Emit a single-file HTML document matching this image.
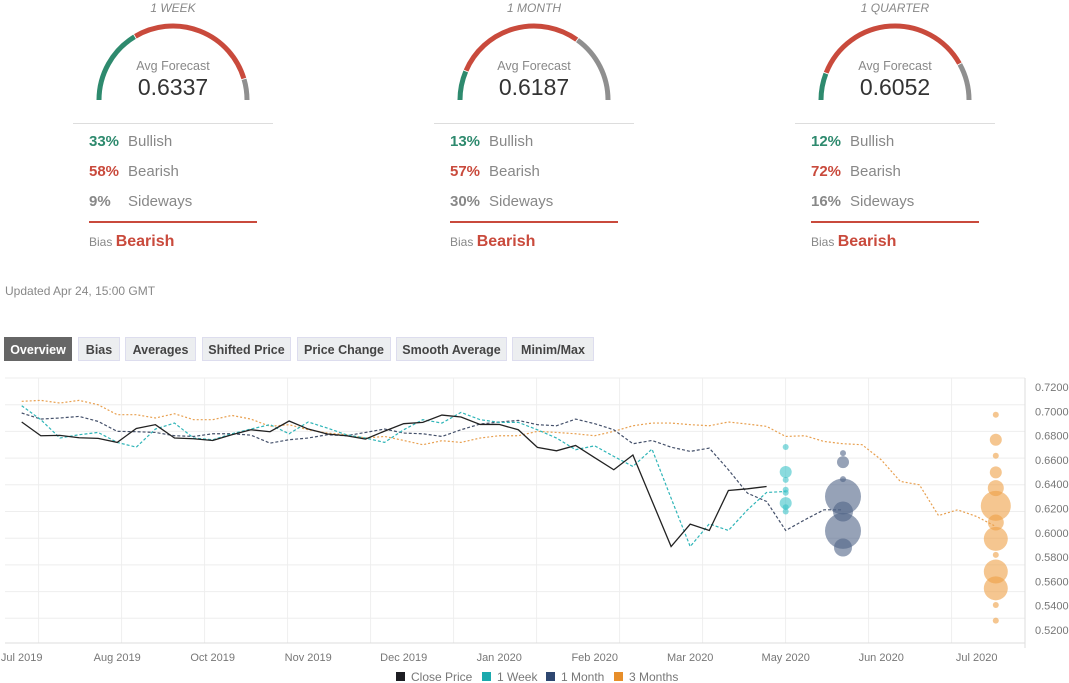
<!DOCTYPE html>
<html><head><meta charset="utf-8">
<style>
body{margin:0;width:1069px;height:683px;background:#fff;font-family:"Liberation Sans",sans-serif;overflow:hidden;position:relative}
.abs{position:absolute}
.gt{position:absolute;width:200px;text-align:center;font-style:italic;font-size:12px;color:#888;top:1px}
.row{position:absolute;font-size:15px;color:#888}
.row b{display:inline-block;width:39px;font-weight:bold}
.btn{position:absolute;top:337px;height:24px;line-height:24px;font-size:12.5px;font-weight:bold;color:#444;background:#eceef0;border:1px solid #dde;text-align:center;box-sizing:border-box}
</style></head><body>
<div id="gauges"></div>
<div class="abs" style="left:5px;top:284px;font-size:12px;color:#888">Updated Apr 24, 15:00 GMT</div>
<div class="btn" style="left:4px;width:68px;background:#666;color:#fff;border-color:#666">Overview</div>
<div class="btn" style="left:78px;width:42px">Bias</div>
<div class="btn" style="left:125px;width:71px">Averages</div>
<div class="btn" style="left:202px;width:89px">Shifted Price</div>
<div class="btn" style="left:297px;width:94px">Price Change</div>
<div class="btn" style="left:396px;width:111px">Smooth Average</div>
<div class="btn" style="left:512px;width:82px">Minim/Max</div>
<svg id="chart" class="abs" style="left:0;top:0" width="1069" height="683"></svg>
<script>
const NS="http://www.w3.org/2000/svg";
// gauges
const gaugeTitles=["1 WEEK","1 MONTH","1 QUARTER"];
const gaugeAvg=["0.6337","0.6187","0.6052"];
const gaugeBull=[33,13,12];
const gaugeBear=[58,57,72];
const gaugeSide=[9,30,16];
const gcx=[173,534,895];
const gdiv=document.getElementById('gauges');
let html='';
for(let g=0;g<3;g++){
  const cx=gcx[g],cy=100,r=74;
  const segs=[[gaugeBull[g],'#2e8a6e'],[gaugeBear[g],'#c94a3c'],[gaugeSide[g],'#8f8f8f']];
  let a0=Math.PI,paths='';
  segs.forEach((s,k)=>{const a1=a0-Math.PI*s[0]/100;const gap=k<2?0.012:0;
    const x0=cx+r*Math.cos(a0),y0=cy-r*Math.sin(a0),x1=cx+r*Math.cos(a1+gap),y1=cy-r*Math.sin(a1+gap);
    paths+=`<path d="M${x0} ${y0} A${r} ${r} 0 0 1 ${x1} ${y1}" stroke="${s[1]}" stroke-width="5" fill="none"/>`;a0=a1;});
  html+=`<div class="gt" style="left:${cx-100}px">${gaugeTitles[g]}</div>
<svg class="abs" style="left:0;top:0" width="1069" height="120">${paths}</svg>
<div class="abs" style="left:${cx-60}px;width:120px;text-align:center;top:59px;font-size:12.5px;color:#888">Avg Forecast</div>
<div class="abs" style="left:${cx-60}px;width:120px;text-align:center;top:74px;font-size:23px;color:#333">${gaugeAvg[g]}</div>
<div class="abs" style="left:${cx-100}px;top:123px;width:200px;height:1px;background:#ddd"></div>
<div class="row" style="left:${cx-84}px;top:133px"><b style="color:#2e8a6e">${gaugeBull[g]}%</b>Bullish</div>
<div class="row" style="left:${cx-84}px;top:163px"><b style="color:#c94a3c">${gaugeBear[g]}%</b>Bearish</div>
<div class="row" style="left:${cx-84}px;top:193px"><b style="color:#888">${gaugeSide[g]}%</b>Sideways</div>
<div class="abs" style="left:${cx-84}px;top:221px;width:168px;height:2px;background:#c94a3c"></div>
<div class="abs" style="left:${cx-84}px;top:233px;font-size:12px;color:#888">Bias <span style="font-size:16px;font-weight:bold;color:#c94a3c">Bearish</span></div>`;
}
gdiv.innerHTML=html;

// chart data
const closePrice=[0.6912,0.6799,0.6802,0.6782,0.6777,0.6744,0.6859,0.6890,0.6780,0.6774,0.6760,0.6807,0.6848,0.6832,0.6920,0.6854,0.6813,0.6799,0.6771,0.6837,0.6898,0.6909,0.6969,0.6953,0.6892,0.6892,0.6848,0.6703,0.6675,0.6719,0.6618,0.6519,0.6640,0.6263,0.5887,0.6071,0.6019,0.6348,0.6362,0.6381];
const week1=[0.7046,0.6931,0.6780,0.6807,0.6826,0.6744,0.6705,0.6854,0.6903,0.6780,0.6766,0.6815,0.6854,0.6890,0.6815,0.6912,0.6862,0.6807,0.6780,0.6744,0.6848,0.6931,0.6903,0.6991,0.6931,0.6909,0.6909,0.6848,0.6780,0.6684,0.6716,0.6629,0.6546,0.6689,0.6285,0.5887,0.6074,0.6019,0.6189,0.6332,0.6340];
const month1=[0.6986,0.6936,0.6945,0.6958,0.6917,0.6835,0.6832,0.6826,0.6799,0.6793,0.6815,0.6815,0.6804,0.6738,0.6766,0.6780,0.6807,0.6799,0.6826,0.6854,0.6821,0.6815,0.6793,0.6848,0.6895,0.6912,0.6925,0.6890,0.6881,0.6936,0.6898,0.6848,0.6733,0.6760,0.6705,0.6670,0.6697,0.6519,0.6326,0.6258,0.6019,0.6107,0.6189,0.6189];
const months3=[0.7082,0.7090,0.7068,0.7090,0.7054,0.6972,0.6972,0.6945,0.6980,0.6931,0.6931,0.6966,0.6936,0.6876,0.6890,0.6848,0.6821,0.6807,0.6780,0.6793,0.6760,0.6725,0.6758,0.6744,0.6780,0.6799,0.6799,0.6835,0.6826,0.6815,0.6799,0.6835,0.6881,0.6903,0.6903,0.6890,0.6881,0.6912,0.6895,0.6876,0.6793,0.6799,0.6752,0.6733,0.6725,0.6601,0.6423,0.6395,0.6142,0.6189,0.6134,0.6052];
const bubW_vals=[0.6706,0.6500,0.6436,0.6354,0.6330,0.6244,0.6210,0.6175];
const bubW_size=[3,6,3,3,3,6,3,3];
const bubM_vals=[0.6656,0.6582,0.6442,0.6299,0.6175,0.6016,0.5879];
const bubM_size=[3,6,3,18,10,18,9];
const bubQ_vals=[0.6972,0.6766,0.6634,0.6497,0.6368,0.6222,0.6085,0.5950,0.5818,0.5681,0.5543,0.5406,0.5277];
const bubQ_size=[3,6,3,6,8,15,8,12,3,12,12,3,3];
const bubIdx=[40,43,51];
const yTicks=[0.72,0.70,0.68,0.66,0.64,0.62,0.60,0.58,0.56,0.54,0.52];
const xTickLabels=["Jul 2019","Aug 2019","Oct 2019","Nov 2019","Dec 2019","Jan 2020","Feb 2020","Mar 2020","May 2020","Jun 2020","Jul 2020"];
const xTickIdx=[0,5,10,15,20,25,30,35,40,45,50];

const X=i=>21.7+i*19.1;
const Y=v=>387+(0.72-v)*1215;
const svg=document.getElementById('chart');
function mk(tag,attrs,parent){const e=document.createElementNS(NS,tag);for(const k in attrs)e.setAttribute(k,attrs[k]);(parent||svg).appendChild(e);return e;}
// grid
for(let k=0;k<10;k++){const gl=mk('line',{x1:5,x2:1025,y1:378+k*26.7,y2:378+k*26.7,stroke:'#eee'});

}
for(let k=0;k<12;k++){const gx=38.6+k*83;if(gx>1020)break;const gl=mk('line',{x1:gx,x2:gx,y1:378,y2:643,stroke:'#eee'});

}
const xa=mk('line',{x1:5,x2:1025,y1:643,y2:643,stroke:'#ddd'});


const ya=mk('line',{x1:1025,x2:1025,y1:378,y2:648,stroke:'#ddd'});


yTicks.forEach(v=>{const t=mk('text',{x:1035,y:Y(v)+4,'font-size':11,fill:'#777','font-family':'Liberation Sans, sans-serif'});t.textContent=v.toFixed(4);

});
xTickIdx.forEach((ix,k)=>{const t=mk('text',{x:X(ix),y:661,'font-size':11,fill:'#777','text-anchor':'middle','font-family':'Liberation Sans, sans-serif'});t.textContent=xTickLabels[k];

});
function line(arr,color,dash,w,name){const p=mk('polyline',{points:arr.map((v,i)=>X(i)+','+Y(v)).join(' '),fill:'none',stroke:color,'stroke-width':w,'stroke-dasharray':dash});

}
line(months3,'#e8a050','2,2',1.2,'three-months-line');
line(month1,'#44506a','3,2',1.2,'one-month-line');
line(week1,'#2fb5b8','3,2',1.2,'one-week-line');
line(closePrice,'#222','',1.3,'close-price-line');
function bubbles(vals,sizes,ix,color,name){vals.forEach((v,k)=>{const c=mk('circle',{cx:X(ix),cy:Y(v),r:sizes[k],fill:color});

});}
bubbles(bubW_vals,bubW_size,bubIdx[0],'rgba(60,195,200,0.6)','one-week-bubble');
bubbles(bubM_vals,bubM_size,bubIdx[1],'rgba(80,100,135,0.6)','one-month-bubble');
bubbles(bubQ_vals,bubQ_size,bubIdx[2],'rgba(238,160,70,0.6)','three-months-bubble');
// legend
const legNames=["Close Price","1 Week","1 Month","3 Months"];
const legColors=["#1d1d22","#1aa9ad","#2e4770","#e78e2a"];
const legX=[396,482,546,614];
legNames.forEach((n,k)=>{const g=mk('g',{});


mk('rect',{x:legX[k],y:672,width:9,height:9,fill:legColors[k]},g);
const t=mk('text',{x:legX[k]+15,y:681,'font-size':12,fill:'#777','font-family':'Liberation Sans, sans-serif'},g);t.textContent=n;});
</script>
</body></html>
